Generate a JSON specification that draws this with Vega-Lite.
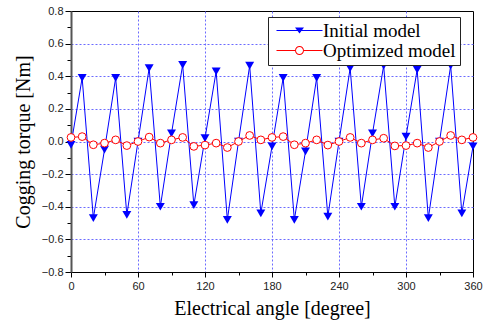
{
  "$schema": "https://vega.github.io/schema/vega-lite/v6.json",
  "width": 402,
  "height": 261,
  "autosize": {"type": "none"},
  "padding": {"left": 71, "top": 11, "right": 13, "bottom": 50},
  "background": "white",
  "config": {
    "view": {"stroke": "black", "strokeWidth": 1},
    "axis": {
      "labelFont": "Liberation Sans",
      "labelFontSize": 11,
      "labelColor": "#222",
      "titleFont": "Liberation Serif",
      "titleFontSize": 20,
      "titleFontWeight": "normal",
      "titleColor": "black",
      "tickColor": "black",
      "gridColor": "#6b6bff",
      "gridDash": [2, 2],
      "gridWidth": 1
    }
  },
  "datasets": {
    "torque": [
      {"angle": 0, "torque": -0.02, "series": "Initial model"},
      {"angle": 10, "torque": 0.39, "series": "Initial model"},
      {"angle": 20, "torque": -0.47, "series": "Initial model"},
      {"angle": 30, "torque": -0.05, "series": "Initial model"},
      {"angle": 40, "torque": 0.39, "series": "Initial model"},
      {"angle": 50, "torque": -0.45, "series": "Initial model"},
      {"angle": 60, "torque": 0.0, "series": "Initial model"},
      {"angle": 70, "torque": 0.45, "series": "Initial model"},
      {"angle": 80, "torque": -0.4, "series": "Initial model"},
      {"angle": 90, "torque": 0.05, "series": "Initial model"},
      {"angle": 100, "torque": 0.47, "series": "Initial model"},
      {"angle": 110, "torque": -0.39, "series": "Initial model"},
      {"angle": 120, "torque": 0.02, "series": "Initial model"},
      {"angle": 130, "torque": 0.43, "series": "Initial model"},
      {"angle": 140, "torque": -0.48, "series": "Initial model"},
      {"angle": 150, "torque": 0.0, "series": "Initial model"},
      {"angle": 160, "torque": 0.465, "series": "Initial model"},
      {"angle": 170, "torque": -0.44, "series": "Initial model"},
      {"angle": 180, "torque": -0.03, "series": "Initial model"},
      {"angle": 190, "torque": 0.39, "series": "Initial model"},
      {"angle": 200, "torque": -0.48, "series": "Initial model"},
      {"angle": 210, "torque": -0.06, "series": "Initial model"},
      {"angle": 220, "torque": 0.39, "series": "Initial model"},
      {"angle": 230, "torque": -0.46, "series": "Initial model"},
      {"angle": 240, "torque": 0.0, "series": "Initial model"},
      {"angle": 250, "torque": 0.45, "series": "Initial model"},
      {"angle": 260, "torque": -0.4, "series": "Initial model"},
      {"angle": 270, "torque": 0.05, "series": "Initial model"},
      {"angle": 280, "torque": 0.465, "series": "Initial model"},
      {"angle": 290, "torque": -0.4, "series": "Initial model"},
      {"angle": 300, "torque": 0.03, "series": "Initial model"},
      {"angle": 310, "torque": 0.44, "series": "Initial model"},
      {"angle": 320, "torque": -0.47, "series": "Initial model"},
      {"angle": 330, "torque": 0.0, "series": "Initial model"},
      {"angle": 340, "torque": 0.465, "series": "Initial model"},
      {"angle": 350, "torque": -0.44, "series": "Initial model"},
      {"angle": 360, "torque": -0.03, "series": "Initial model"},
      {"angle": 0, "torque": 0.025, "series": "Optimized model"},
      {"angle": 10, "torque": 0.03, "series": "Optimized model"},
      {"angle": 20, "torque": -0.02, "series": "Optimized model"},
      {"angle": 30, "torque": -0.01, "series": "Optimized model"},
      {"angle": 40, "torque": 0.01, "series": "Optimized model"},
      {"angle": 50, "torque": -0.025, "series": "Optimized model"},
      {"angle": 60, "torque": 0.0, "series": "Optimized model"},
      {"angle": 70, "torque": 0.027, "series": "Optimized model"},
      {"angle": 80, "torque": -0.01, "series": "Optimized model"},
      {"angle": 90, "torque": 0.01, "series": "Optimized model"},
      {"angle": 100, "torque": 0.025, "series": "Optimized model"},
      {"angle": 110, "torque": -0.03, "series": "Optimized model"},
      {"angle": 120, "torque": -0.022, "series": "Optimized model"},
      {"angle": 130, "torque": -0.01, "series": "Optimized model"},
      {"angle": 140, "torque": -0.037, "series": "Optimized model"},
      {"angle": 150, "torque": 0.0, "series": "Optimized model"},
      {"angle": 160, "torque": 0.037, "series": "Optimized model"},
      {"angle": 170, "torque": 0.01, "series": "Optimized model"},
      {"angle": 180, "torque": 0.025, "series": "Optimized model"},
      {"angle": 190, "torque": 0.03, "series": "Optimized model"},
      {"angle": 200, "torque": -0.02, "series": "Optimized model"},
      {"angle": 210, "torque": -0.01, "series": "Optimized model"},
      {"angle": 220, "torque": 0.01, "series": "Optimized model"},
      {"angle": 230, "torque": -0.022, "series": "Optimized model"},
      {"angle": 240, "torque": 0.0, "series": "Optimized model"},
      {"angle": 250, "torque": 0.025, "series": "Optimized model"},
      {"angle": 260, "torque": -0.01, "series": "Optimized model"},
      {"angle": 270, "torque": 0.01, "series": "Optimized model"},
      {"angle": 280, "torque": 0.02, "series": "Optimized model"},
      {"angle": 290, "torque": -0.027, "series": "Optimized model"},
      {"angle": 300, "torque": -0.025, "series": "Optimized model"},
      {"angle": 310, "torque": -0.01, "series": "Optimized model"},
      {"angle": 320, "torque": -0.037, "series": "Optimized model"},
      {"angle": 330, "torque": 0.0, "series": "Optimized model"},
      {"angle": 340, "torque": 0.037, "series": "Optimized model"},
      {"angle": 350, "torque": 0.01, "series": "Optimized model"},
      {"angle": 360, "torque": 0.025, "series": "Optimized model"}
    ]
  },
  "data": {"name": "torque"},
  "encoding": {
    "x": {
      "field": "angle",
      "type": "quantitative",
      "scale": {"domain": [0, 360], "nice": false, "zero": false},
      "axis": {
        "title": "Electrical angle [degree]",
        "values": [0, 30, 60, 90, 120, 150, 180, 210, 240, 270, 300, 330, 360],
        "labelExpr": "datum.value % 60 === 0 ? datum.label : ''",
        "tickSize": {"condition": {"test": "datum.value % 60 === 0", "value": 5}, "value": 3},
        "gridOpacity": {"condition": {"test": "datum.value % 60 === 0 && datum.value > 0 && datum.value < 360", "value": 1}, "value": 0},
        "domainColor": "black",
        "domainWidth": 1.2,
        "labelPadding": 3,
        "titlePadding": 7,
        "labelFlush": false
      }
    },
    "y": {
      "field": "torque",
      "type": "quantitative",
      "scale": {"domain": [-0.8, 0.8], "nice": false, "zero": false},
      "axis": {
        "title": "Cogging torque [Nm]",
        "values": [-0.8, -0.7, -0.6, -0.5, -0.4, -0.3, -0.2, -0.1, 0, 0.1, 0.2, 0.3, 0.4, 0.5, 0.6, 0.7, 0.8],
        "format": ".1f",
        "labelExpr": "abs(round(datum.value * 10)) % 2 === 0 ? datum.label : ''",
        "tickSize": {"condition": {"test": "abs(round(datum.value * 10)) % 2 === 0", "value": 6}, "value": 4},
        "gridOpacity": {"condition": {"test": "abs(round(datum.value * 10)) % 2 === 0 && abs(datum.value) < 0.75", "value": 1}, "value": 0},
        "domainColor": "#555",
        "domainWidth": 2,
        "labelPadding": 2,
        "titlePadding": 8,
        "labelFlush": false
      }
    },
    "color": {
      "field": "series",
      "type": "nominal",
      "scale": {"domain": ["Initial model", "Optimized model"], "range": ["#0000ff", "#ff0000"]},
      "legend": {
        "title": null,
        "orient": "none",
        "legendX": 197,
        "legendY": 6,
        "fillColor": "white",
        "strokeColor": "#222",
        "padding": 4,
        "labelFont": "Liberation Serif",
        "labelFontSize": 19,
        "labelColor": "black",
        "labelOffset": 14,
        "symbolSize": 100,
        "symbolOffset": 18,
        "rowPadding": -2,
        "encode": {
          "symbols": {
            "update": {
              "shape": {"signal": "datum.value === 'Initial model' ? 'M-4.6,-0.1H4.6V0.1H-4.6ZM-0.9,-0.6L0.9,-0.6L0,0.6Z' : 'M-4.6,-0.1H-0.9V0.1H-4.6ZM0.9,-0.1H4.6V0.1H0.9ZM0.9,0A0.9,0.9 0 1,1 -0.9,0A0.9,0.9 0 1,1 0.9,0ZM0.7,0A0.7,0.7 0 1,0 -0.7,0A0.7,0.7 0 1,0 0.7,0Z'"},
              "stroke": {"value": "transparent"},
              "strokeWidth": {"value": 0},
              "opacity": {"value": 1},
              "fillOpacity": {"value": 1}
            }
          }
        }
      }
    }
  },
  "layer": [
    {
      "transform": [{"filter": "datum.series === 'Initial model'"}],
      "mark": {"type": "line", "strokeWidth": 1}
    },
    {
      "transform": [{"filter": "datum.series === 'Initial model'"}],
      "mark": {"type": "point", "shape": "triangle-down", "filled": true, "size": 80, "opacity": 1}
    },
    {
      "transform": [{"filter": "datum.series === 'Optimized model'"}],
      "mark": {"type": "line", "strokeWidth": 1}
    },
    {
      "transform": [{"filter": "datum.series === 'Optimized model'"}],
      "mark": {"type": "point", "shape": "circle", "filled": false, "fill": "white", "size": 60, "strokeWidth": 1, "opacity": 1}
    }
  ]
}
